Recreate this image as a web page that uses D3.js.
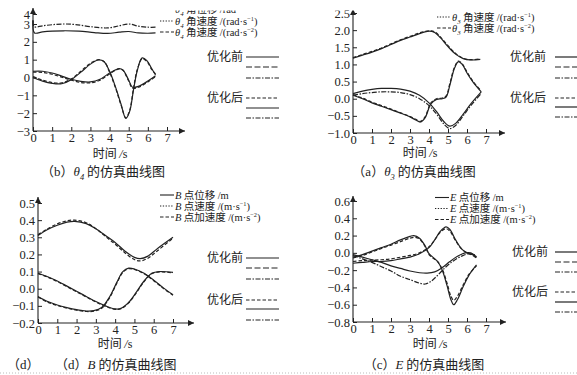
<!DOCTYPE html>
<html>
<head>
<meta charset="utf-8">
<script src="https://cdn.jsdelivr.net/npm/d3@7"></script>
<style>
body { margin: 0; background: #fff; }
svg { display: block; }
</style>
</head>
<body>
<script>
// shared time axis (s)
var timeTicks = [0, 1, 2, 3, 4, 5, 6, 7];

// (b) theta4 : [t, value]
var th4Ticks = [-3, -2, -1, 0, 1, 2, 3, 4];
var th4DispBefore = [[0,3.3],[0.06,2.85],[0.5,2.9],[1,2.96],[1.6,3.0],[2.2,2.97],[3,2.85],[3.9,2.78],[4.5,2.9],[5,3.0],[5.5,2.88],[6,2.82],[6.4,2.82]];
var th4DispAfter  = [[0,3.4],[0.08,2.5],[0.5,2.56],[1,2.6],[1.6,2.62],[2.4,2.6],[3.2,2.52],[3.9,2.47],[4.5,2.54],[5,2.58],[5.5,2.5],[6,2.48],[6.4,2.5]];
var th4VelBefore  = [[0,0.35],[0.5,0.35],[1,0.25],[1.5,0.08],[2,-0.1],[2.5,-0.22],[3,-0.25],[3.5,-0.1],[4,0.25],[4.5,0.5],[4.7,0.42],[5,-0.15],[5.2,-0.55],[5.5,-0.5],[6,-0.2],[6.4,0.1]];
var th4VelAfter   = [[0,0.3],[0.5,0.28],[1,0.18],[1.5,0.02],[2,-0.15],[2.5,-0.28],[3,-0.3],[3.5,-0.15],[4,0.2],[4.5,0.48],[4.7,0.4],[5,-0.2],[5.2,-0.6],[5.5,-0.55],[6,-0.25],[6.4,0.05]];
var th4AccBefore  = [[0,0.0],[0.5,-0.2],[1,-0.33],[1.5,-0.35],[2,-0.12],[2.5,0.3],[3,0.75],[3.4,0.98],[3.7,0.9],[4,0.35],[4.3,-0.5],[4.6,-1.5],[4.85,-2.3],[5.05,-1.9],[5.25,-0.7],[5.45,0.4],[5.7,1.1],[5.95,0.95],[6.2,0.5],[6.4,0.15]];
var th4AccAfter   = [[0,0.05],[0.5,-0.15],[1,-0.28],[1.5,-0.3],[2,-0.08],[2.5,0.35],[3,0.8],[3.45,1.0],[3.75,0.85],[4,0.3],[4.3,-0.55],[4.6,-1.55],[4.85,-2.25],[5.05,-1.85],[5.25,-0.6],[5.45,0.45],[5.7,1.05],[5.95,0.9],[6.2,0.45],[6.4,0.2]];

// (a) theta3
var th3Ticks = [-1.0, -0.5, 0.0, 0.5, 1.0, 1.5, 2.0, 2.5];
var th3DispBefore = [[0,1.18],[0.5,1.27],[1,1.36],[1.5,1.46],[2,1.58],[2.5,1.7],[3,1.8],[3.5,1.9],[4,1.97],[4.3,1.93],[4.6,1.78],[5,1.52],[5.4,1.3],[5.8,1.17],[6.2,1.13],[6.7,1.15]];
var th3DispAfter  = [[0,1.2],[0.5,1.29],[1,1.38],[1.5,1.48],[2,1.6],[2.5,1.72],[3,1.82],[3.5,1.92],[4,1.98],[4.3,1.95],[4.6,1.8],[5,1.55],[5.4,1.32],[5.8,1.18],[6.2,1.14],[6.7,1.16]];
var th3VelBefore  = [[0,0.15],[0.5,0.22],[1,0.27],[1.5,0.3],[2,0.3],[2.5,0.28],[3,0.22],[3.5,0.1],[4,-0.12],[4.4,-0.38],[4.8,-0.68],[5.1,-0.8],[5.4,-0.72],[5.8,-0.45],[6.2,-0.15],[6.75,0.2]];
var th3VelAfter   = [[0,0.1],[0.5,0.15],[1,0.18],[1.5,0.2],[2,0.2],[2.5,0.18],[3,0.12],[3.5,0.0],[4,-0.2],[4.4,-0.45],[4.8,-0.75],[5.1,-0.87],[5.4,-0.78],[5.8,-0.5],[6.2,-0.2],[6.75,0.15]];
var th3AccBefore  = [[0,0.1],[0.5,0.0],[1,-0.12],[1.5,-0.22],[2,-0.32],[2.5,-0.42],[3,-0.53],[3.3,-0.62],[3.55,-0.68],[3.8,-0.55],[4.1,-0.15],[4.4,-0.02],[4.7,0.0],[4.9,0.05],[5.1,0.4],[5.35,0.9],[5.55,1.08],[5.75,1.0],[6,0.75],[6.3,0.5],[6.75,0.2]];
var th3AccAfter   = [[0,0.12],[0.5,0.02],[1,-0.1],[1.5,-0.2],[2,-0.3],[2.5,-0.41],[3,-0.52],[3.3,-0.6],[3.55,-0.66],[3.8,-0.52],[4.1,-0.12],[4.4,0.0],[4.7,0.02],[4.9,0.08],[5.1,0.45],[5.35,0.93],[5.55,1.1],[5.75,1.02],[6,0.78],[6.3,0.52],[6.75,0.22]];

// (d) point B
var bTicks = [-0.2, -0.1, 0.0, 0.1, 0.2, 0.3, 0.4, 0.5];
var bDispBefore = [[0,0.09],[0.5,0.07],[1,0.045],[1.5,0.015],[2,-0.015],[2.5,-0.045],[3,-0.075],[3.5,-0.1],[4,-0.118],[4.3,-0.115],[4.7,-0.08],[5.1,-0.02],[5.5,0.045],[5.9,0.09],[6.3,0.1],[7,0.095]];
var bDispAfter  = [[0,0.088],[0.5,0.068],[1,0.042],[1.5,0.012],[2,-0.018],[2.5,-0.048],[3,-0.078],[3.5,-0.103],[4,-0.12],[4.3,-0.117],[4.7,-0.083],[5.1,-0.024],[5.5,0.042],[5.9,0.088],[6.3,0.098],[7,0.093]];
var bVelBefore  = [[0,0.31],[0.5,0.345],[1,0.37],[1.5,0.388],[1.9,0.393],[2.5,0.38],[3,0.35],[3.5,0.31],[4,0.27],[4.5,0.22],[5,0.183],[5.3,0.175],[5.7,0.19],[6.2,0.235],[7,0.3]];
var bVelAfter   = [[0,0.315],[0.5,0.35],[1,0.378],[1.5,0.396],[1.9,0.4],[2.5,0.385],[3,0.35],[3.5,0.305],[4,0.26],[4.5,0.21],[5,0.17],[5.3,0.162],[5.7,0.178],[6.2,0.222],[7,0.295]];
var bAccBefore  = [[0,-0.045],[0.5,-0.075],[1,-0.095],[1.5,-0.11],[2,-0.122],[2.5,-0.13],[2.9,-0.128],[3.3,-0.11],[3.7,-0.05],[4.1,0.04],[4.4,0.1],[4.7,0.12],[5,0.115],[5.5,0.09],[6,0.05],[6.5,0.005],[7,-0.035]];
var bAccAfter   = [[0,-0.048],[0.5,-0.078],[1,-0.098],[1.5,-0.113],[2,-0.125],[2.5,-0.133],[2.9,-0.131],[3.3,-0.114],[3.7,-0.055],[4.1,0.035],[4.4,0.096],[4.7,0.117],[5,0.112],[5.5,0.087],[6,0.047],[6.5,0.002],[7,-0.038]];

// (c) point E
var eTicks = [-0.8, -0.6, -0.4, -0.2, 0.0, 0.2, 0.4, 0.6];
var eDispBefore = [[0,-0.05],[0.5,-0.02],[1,0.02],[1.5,0.06],[2,0.1],[2.5,0.15],[3,0.19],[3.2,0.2],[3.5,0.17],[3.8,0.08],[4,-0.01],[4.2,-0.05],[4.45,-0.1],[4.7,-0.2],[4.95,-0.38],[5.15,-0.54],[5.3,-0.6],[5.5,-0.54],[5.8,-0.39],[6.1,-0.26],[6.5,-0.14]];
var eDispAfter  = [[0,-0.06],[0.5,-0.03],[1,0.01],[1.5,0.05],[2,0.09],[2.5,0.13],[3,0.17],[3.2,0.18],[3.5,0.16],[3.8,0.07],[4,-0.02],[4.2,-0.06],[4.45,-0.1],[4.7,-0.19],[4.95,-0.35],[5.15,-0.5],[5.3,-0.55],[5.5,-0.5],[5.8,-0.37],[6.1,-0.25],[6.5,-0.15]];
var eVelBefore  = [[0,-0.02],[0.5,-0.05],[1,-0.08],[1.5,-0.11],[2,-0.15],[2.5,-0.18],[3,-0.21],[3.5,-0.23],[3.9,-0.235],[4.3,-0.22],[4.7,-0.17],[5.1,-0.1],[5.5,-0.04],[5.9,0.0],[6.2,0.0],[6.5,-0.05]];
var eVelAfter   = [[0,-0.03],[0.5,-0.07],[1,-0.11],[1.5,-0.16],[2,-0.21],[2.5,-0.27],[3,-0.31],[3.5,-0.35],[3.8,-0.36],[4.1,-0.33],[4.5,-0.25],[4.9,-0.16],[5.3,-0.09],[5.7,-0.04],[6.1,-0.01],[6.5,-0.03]];
var eAccBefore  = [[0,-0.12],[0.5,-0.11],[1,-0.1],[1.5,-0.1],[2,-0.09],[2.5,-0.07],[3,-0.05],[3.5,-0.01],[4,0.06],[4.3,0.15],[4.6,0.25],[4.9,0.3],[5.1,0.27],[5.4,0.15],[5.7,0.05],[6,0.0],[6.3,-0.02],[6.5,-0.05]];
var eAccAfter   = [[0,-0.1],[0.5,-0.09],[1,-0.085],[1.5,-0.08],[2,-0.07],[2.5,-0.05],[3,-0.03],[3.5,0.0],[4,0.07],[4.3,0.15],[4.6,0.24],[4.9,0.28],[5.1,0.25],[5.4,0.14],[5.7,0.05],[6,0.0],[6.3,-0.03],[6.5,-0.06]];

var ink = "#222";
var dash = { solid: null, dot: "1.3,1.5", dash: "3.5,2", longdash: "6,2.5", dashdot: "5,1.5,1.5,1.5" };

var svg = d3.select("body").append("svg").attr("width", 577).attr("height", 375);

var defs = svg.append("defs");
defs.append("marker").attr("id", "arrow")
  .attr("viewBox", "0 0 10 10").attr("refX", 10).attr("refY", 5)
  .attr("markerWidth", 9).attr("markerHeight", 6)
  .attr("markerUnits", "userSpaceOnUse").attr("orient", "auto")
  .append("path").attr("d", "M0,0 L10,5 L0,10 z").attr("fill", ink);

// text made of pieces: c = CJK, r = roman, i = italic, sub / sup = small shifted
function rich(g, x, y, parts, size, anchor) {
  var t = g.append("text").attr("x", x).attr("y", y)
    .attr("font-size", size).attr("fill", ink)
    .attr("text-anchor", anchor || "start");
  var shift = 0;
  parts.forEach(function(p) {
    var s = t.append("tspan").text(p[1]);
    var want = 0;
    if (p[0] == "c") s.attr("font-family", "Noto Sans CJK SC");
    else s.attr("font-family", "Liberation Serif");
    if (p[0] == "i") s.attr("font-style", "italic");
    if (p[0] == "sub") { want = size * 0.28; s.attr("font-size", size * 0.65).attr("font-style", "italic"); }
    if (p[0] == "sup") { want = -size * 0.35; s.attr("font-size", size * 0.6); }
    if (want != shift) { s.attr("dy", want - shift); shift = want; }
  });
  return t;
}

function drawPanel(p) {
  var g = svg.append("g");
  var x = d3.scaleLinear().domain([0, 7]).range(p.xr);
  var y = p.y;
  var base = y(p.ticks[0]);

  var xa = g.append("g").attr("transform", "translate(0," + base + ")")
    .call(d3.axisBottom(x).tickValues(timeTicks).tickFormat(d3.format("d"))
      .tickSize(-4).tickSizeOuter(0).tickPadding(2));
  var ya = g.append("g").attr("transform", "translate(" + p.xr[0] + ",0)")
    .call(d3.axisLeft(y).tickValues(p.ticks).tickFormat(p.fmt).tickSize(-4).tickSizeOuter(0).tickPadding(3));
  [xa, ya].forEach(function(a) {
    a.select(".domain").remove();
    a.selectAll("line").attr("stroke", ink);
    a.selectAll("text").attr("font-family", "Liberation Serif").attr("font-size", 12.5).attr("fill", ink);
  });
  g.append("line").attr("x1", p.xr[0]).attr("x2", p.xArrow).attr("y1", base).attr("y2", base)
    .attr("stroke", ink).attr("stroke-width", 1.1).attr("marker-end", "url(#arrow)");
  g.append("line").attr("x1", p.xr[0]).attr("x2", p.xr[0]).attr("y1", base).attr("y2", p.yArrow)
    .attr("stroke", ink).attr("stroke-width", 1.1).attr("marker-end", "url(#arrow)");

  var line = d3.line().x(function(d) { return x(d[0]); }).y(function(d) { return y(d[1]); })
    .curve(d3.curveCatmullRom.alpha(0.5));
  p.curves.forEach(function(c) {
    g.append("path").attr("d", line(c[0])).attr("fill", "none")
      .attr("stroke", ink).attr("stroke-width", 1.2)
      .attr("stroke-dasharray", dash[c[1]]);
  });

  // legend above the plot
  p.top.forEach(function(e, i) {
    var cy = p.topY[i];
    g.append("line").attr("x1", p.topX).attr("x2", p.topX + 14).attr("y1", cy).attr("y2", cy)
      .attr("stroke", ink).attr("stroke-width", 1.1).attr("stroke-dasharray", dash[e[0]]);
    rich(g, p.topX + 15, cy + 3.6, e[1], 10.5);
  });

  // before / after key on the right
  rich(g, p.keyX, p.keyY[0] + 4, [["c", "优化前"]], 12);
  rich(g, p.keyX, p.keyY[3] + 4, [["c", "优化后"]], 12);
  p.keyStyles.forEach(function(s, i) {
    g.append("line").attr("x1", p.keyL[0]).attr("x2", p.keyL[1])
      .attr("y1", p.keyY[i]).attr("y2", p.keyY[i])
      .attr("stroke", ink).attr("stroke-width", 1.2).attr("stroke-dasharray", dash[s]);
  });

  rich(g, p.xLab[0], p.xLab[1], [["c", "时间 "], ["i", "/"], ["r", "s"]], 12, "middle");
  p.caps.forEach(function(c) { rich(g, c[0], c[1], c[2], 13, c[3] || "start"); });
}

var keyStyles = ["solid", "longdash", "dashdot", "dash", "solid", "dashdot"];

drawPanel({
  xr: [33, 167], xArrow: 185, yArrow: 8,
  y: d3.scaleLinear().domain([-3, 3, 4]).range([131, 24, 14]),
  ticks: th4Ticks, fmt: d3.format("d"),
  curves: [[th4DispBefore, "dashdot"], [th4DispAfter, "solid"], [th4VelBefore, "solid"], [th4VelAfter, "dash"], [th4AccBefore, "solid"], [th4AccAfter, "dash"]],
  topX: 160, topY: [9, 21, 32],
  top: [["solid", [["i", "θ"], ["sub", "4"], ["c", " 角位移 "], ["r", "/rad"]]],
        ["dot", [["i", "θ"], ["sub", "4"], ["c", " 角速度 "], ["r", "/(rad·s"], ["sup", "−1"], ["r", ")"]]],
        ["dash", [["i", "θ"], ["sub", "4"], ["c", " 角速度 "], ["r", "/(rad·s"], ["sup", "−2"], ["r", ")"]]]],
  keyX: 207, keyL: [246, 279], keyY: [57, 67, 78, 98, 108, 118], keyStyles: keyStyles,
  xLab: [110, 158],
  caps: [[103, 176, [["c", "（"], ["r", "b"], ["c", "）"], ["i", "θ"], ["sub", "4"], ["c", " 的仿真曲线图"]], "middle"]]
});

drawPanel({
  xr: [353, 486], xArrow: 505, yArrow: 9,
  y: d3.scaleLinear().domain([-1, 2.5]).range([133, 13]),
  ticks: th3Ticks, fmt: d3.format(".1f"),
  curves: [[th3DispBefore, "solid"], [th3DispAfter, "dash"], [th3VelBefore, "solid"], [th3VelAfter, "dashdot"], [th3AccBefore, "solid"], [th3AccAfter, "dash"]],
  topX: 437, topY: [17, 28],
  top: [["dot", [["i", "θ"], ["sub", "3"], ["c", " 角速度 "], ["r", "/(rad·s"], ["sup", "−1"], ["r", ")"]]],
        ["dash", [["i", "θ"], ["sub", "3"], ["c", " 角速度 "], ["r", "/(rad·s"], ["sup", "−2"], ["r", ")"]]]],
  keyX: 510, keyL: [555, 577], keyY: [57, 67, 78, 98, 107, 117], keyStyles: keyStyles,
  xLab: [420, 157],
  caps: [[414, 176, [["c", "（"], ["r", "a"], ["c", "）"], ["i", "θ"], ["sub", "3"], ["c", " 的仿真曲线图"]], "middle"]]
});

drawPanel({
  xr: [38, 173], xArrow: 194, yArrow: 197,
  y: d3.scaleLinear().domain([-0.2, 0.5]).range([323, 203]),
  ticks: bTicks, fmt: d3.format(".1f"),
  curves: [[bVelBefore, "solid"], [bVelAfter, "dash"], [bDispBefore, "solid"], [bDispAfter, "dash"], [bAccBefore, "solid"], [bAccAfter, "dash"]],
  topX: 160, topY: [195, 206, 217],
  top: [["solid", [["i", "B"], ["c", " 点位移 "], ["r", "/m"]]],
        ["dot", [["i", "B"], ["c", " 点速度 "], ["r", "/(m·s"], ["sup", "−1"], ["r", ")"]]],
        ["dash", [["i", "B"], ["c", " 点加速度 "], ["r", "/(m·s"], ["sup", "−2"], ["r", ")"]]]],
  keyX: 207, keyL: [246, 279], keyY: [258, 268, 279, 300, 309, 320], keyStyles: keyStyles,
  xLab: [115, 348],
  caps: [[7, 369, [["c", "（"], ["r", "d"], ["c", "）"]]],
         [55, 369, [["c", "（"], ["r", "d"], ["c", "）"], ["i", "B"], ["c", " 的仿真曲线图"]]]]
});

drawPanel({
  xr: [353, 486], xArrow: 506, yArrow: 196,
  y: d3.scaleLinear().domain([-0.8, 0.6]).range([322, 201]),
  ticks: eTicks, fmt: d3.format(".1f"),
  curves: [[eDispBefore, "solid"], [eDispAfter, "dash"], [eVelBefore, "solid"], [eVelAfter, "dashdot"], [eAccBefore, "solid"], [eAccAfter, "dash"]],
  topX: 435, topY: [197.5, 208.5, 219.5],
  top: [["solid", [["i", "E"], ["c", " 点位移 "], ["r", "/m"]]],
        ["dot", [["i", "E"], ["c", " 点速度 "], ["r", "/(m·s"], ["sup", "−1"], ["r", ")"]]],
        ["dash", [["i", "E"], ["c", " 点加速度 "], ["r", "/(m·s"], ["sup", "−2"], ["r", ")"]]]],
  keyX: 512, keyL: [555, 577], keyY: [252, 262, 272, 292, 302, 312], keyStyles: keyStyles,
  xLab: [430, 348],
  caps: [[424, 369, [["c", "（"], ["r", "c"], ["c", "）"], ["i", "E"], ["c", " 的仿真曲线图"]], "middle"]]
});

// the scan is cut off along the top edge
svg.append("rect").attr("x", 150).attr("y", 0).attr("width", 427).attr("height", 10.5).attr("fill", "#fff");

// faint rule along the bottom of the page
svg.append("line").attr("x1", 0).attr("x2", 577).attr("y1", 373).attr("y2", 373)
  .attr("stroke", "#bbb").attr("stroke-width", 1).attr("stroke-dasharray", "1,2");
</script>
</body>
</html>
